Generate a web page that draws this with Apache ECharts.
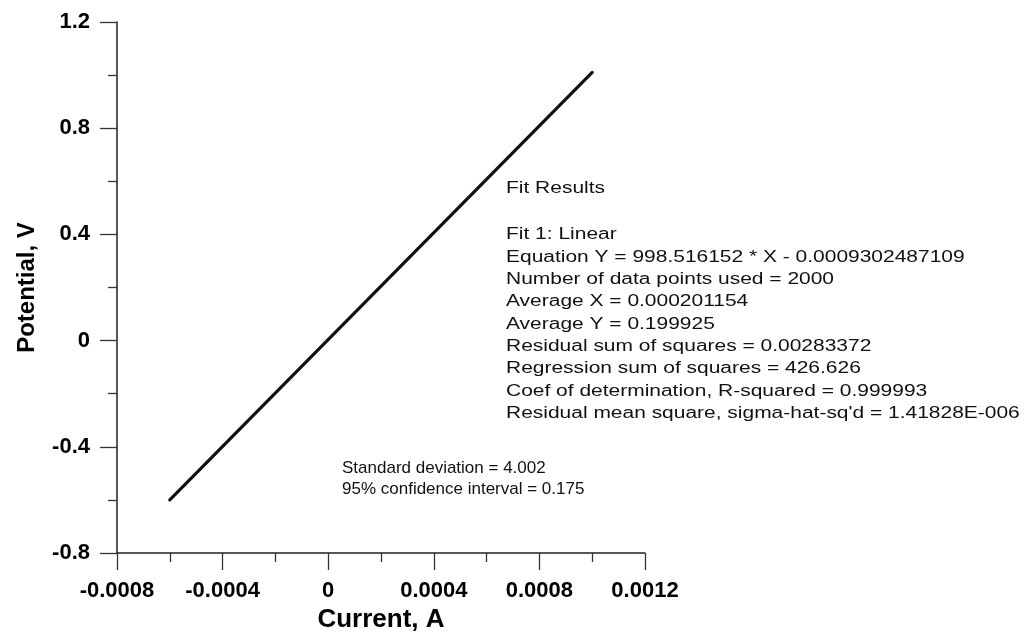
<!DOCTYPE html>
<html>
<head>
<meta charset="utf-8">
<script src="https://cdn.jsdelivr.net/npm/echarts@6/dist/echarts.min.js"></script>
<style>
  html, body { margin: 0; padding: 0; background: #fff; }
  #chart { width: 1032px; height: 634px; }
</style>
</head>
<body>
<div id="chart"></div>
<script>
// Measured I-V trace (current in A, potential in V)
const current = [-0.0006, 0.001];
const potential = [-0.6, 1.01];

// Axis ranges and tick labels
const xMin = -0.0008, xMax = 0.0012, xStep = 0.0004;
const yMin = -0.8, yMax = 1.2, yStep = 0.4;
const xTickLabels = ['-0.0008', '-0.0004', '0', '0.0004', '0.0008', '0.0012'];
const yTickLabels = ['-0.8', '-0.4', '0', '0.4', '0.8', '1.2'];

// Linear fit report
const fitTitle = 'Fit Results';
const fitLines = [
  'Fit 1: Linear',
  'Equation Y = 998.516152 * X - 0.0009302487109',
  'Number of data points used = 2000',
  'Average X = 0.000201154',
  'Average Y = 0.199925',
  'Residual sum of squares = 0.00283372',
  'Regression sum of squares = 426.626',
  'Coef of determination, R-squared = 0.999993',
  "Residual mean square, sigma-hat-sq'd = 1.41828E-006"
];
const statLines = [
  'Standard deviation = 4.002',
  '95% confidence interval = 0.175'
];

const FONT = '"Liberation Sans", Arial, Helvetica, sans-serif';
const ink = '#111';

const chart = echarts.init(document.getElementById('chart'), null, { renderer: 'canvas' });

function tickText(labels, min, step) {
  return function (v) {
    const i = Math.round((v - min) / step);
    return labels[i] !== undefined ? labels[i] : '';
  };
}

const axisCommon = {
  type: 'value',
  axisLine: { show: true, onZero: false, lineStyle: { color: '#222', width: 1.5 } },
  axisTick: { show: true, inside: false, length: 17, lineStyle: { color: '#333', width: 1.3 } },
  minorTick: { show: true, splitNumber: 2, length: 9, lineStyle: { color: '#333', width: 1.3 } },
  splitLine: { show: false },
  minorSplitLine: { show: false },
  nameLocation: 'middle',
  nameTextStyle: { fontFamily: FONT, fontWeight: 'bold', color: '#000' }
};

const graphics = [];
graphics.push({
  type: 'text', x: 506, y: 189, scaleX: 1.31,
  style: { text: fitTitle, x: 0, y: 0, font: '16px ' + FONT, fill: ink, verticalAlign: 'middle', align: 'left' }
});
fitLines.forEach(function (t, i) {
  graphics.push({
    type: 'text', x: 506, y: 235 + i * 22.3, scaleX: 1.31,
    style: { text: t, x: 0, y: 0, font: '16px ' + FONT, fill: ink, verticalAlign: 'middle', align: 'left' }
  });
});
statLines.forEach(function (t, i) {
  graphics.push({
    type: 'text', x: 342, y: 468 + i * 21.5,
    style: { text: t, x: 0, y: 0, font: '17px ' + FONT, fill: ink, verticalAlign: 'middle', align: 'left' }
  });
});

chart.setOption({
  animation: false,
  backgroundColor: '#fff',
  grid: { left: 117, right: 387, top: 22, bottom: 81, containLabel: false, outerBoundsMode: 'none' },
  xAxis: Object.assign({}, axisCommon, {
    min: xMin, max: xMax, interval: xStep,
    name: 'Current, A',
    nameGap: 51,
    nameTextStyle: Object.assign({}, axisCommon.nameTextStyle, { fontSize: 26 }),
    axisLabel: {
      margin: 27, fontFamily: FONT, fontWeight: 'bold', fontSize: 22, color: '#000',
      formatter: tickText(xTickLabels, xMin, xStep)
    }
  }),
  yAxis: Object.assign({}, axisCommon, {
    min: yMin, max: yMax, interval: yStep,
    name: 'Potential, V',
    nameGap: 78,
    nameTextStyle: Object.assign({}, axisCommon.nameTextStyle, { fontSize: 24 }),
    axisLabel: {
      margin: 27, fontFamily: FONT, fontWeight: 'bold', fontSize: 22, color: '#000',
      formatter: tickText(yTickLabels, yMin, yStep)
    }
  }),
  series: [{
    type: 'line',
    data: current.map(function (c, i) { return [c, potential[i]]; }),
    showSymbol: false,
    lineStyle: { color: ink, width: 3.2, cap: 'round' },
    silent: true
  }],
  graphic: graphics
});
</script>
</body>
</html>
